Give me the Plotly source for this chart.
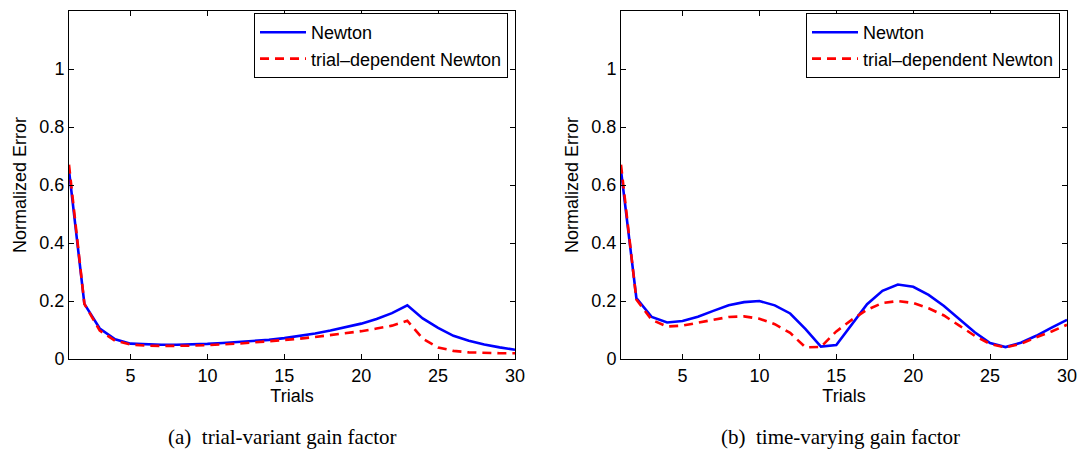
import plotly.graph_objects as go

W, H = 1080, 451

trials = list(range(1, 31))

# (a) trial-variant gain factor
newton_a = [0.65, 0.19, 0.105, 0.068, 0.053, 0.050, 0.049, 0.049, 0.050, 0.052,
            0.055, 0.058, 0.062, 0.066, 0.072, 0.079, 0.088, 0.098, 0.109, 0.122,
            0.138, 0.158, 0.185, 0.140, 0.107, 0.080, 0.063, 0.050, 0.040, 0.032]
trial_dep_a = [0.67, 0.19, 0.098, 0.063, 0.050, 0.046, 0.045, 0.045, 0.046, 0.048,
               0.050, 0.053, 0.057, 0.061, 0.065, 0.070, 0.076, 0.082, 0.089, 0.096,
               0.105, 0.115, 0.132, 0.070, 0.040, 0.028, 0.023, 0.021, 0.020, 0.020]

# (b) time-varying gain factor
newton_b = [0.65, 0.21, 0.145, 0.126, 0.131, 0.146, 0.166, 0.185, 0.196, 0.200,
            0.185, 0.157, 0.103, 0.043, 0.048, 0.120, 0.189, 0.235, 0.257, 0.249,
            0.221, 0.183, 0.137, 0.092, 0.055, 0.041, 0.056, 0.080, 0.108, 0.135]
trial_dep_b = [0.67, 0.205, 0.135, 0.112, 0.115, 0.125, 0.135, 0.145, 0.147, 0.139,
               0.120, 0.090, 0.040, 0.042, 0.095, 0.135, 0.170, 0.193, 0.200, 0.193,
               0.175, 0.150, 0.115, 0.080, 0.052, 0.040, 0.052, 0.075, 0.095, 0.118]

series_names = ["Newton", "trial\u2013dependent Newton"]
captions = ["(a)  trial-variant gain factor", "(b)  time-varying gain factor"]
x_ticks = [5, 10, 15, 20, 25, 30]
y_ticks = [0, 0.2, 0.4, 0.6, 0.8, 1]
y_tick_text = ["0", "0.2", "0.4", "0.6", "0.8", "1"]

SANS = "Liberation Sans, Arial, Helvetica, sans-serif"
SERIF = "Liberation Serif, Times New Roman, serif"
BLUE = "#0000FF"
RED = "#FF0000"

# pixel boxes of the two axes
y_top, y_bot = 11, 359
panels = [
    dict(x0=69, x1=515, data=(newton_a, trial_dep_a), legend="legend", cap_x=282),
    dict(x0=621, x1=1067, data=(newton_b, trial_dep_b), legend="legend2", cap_x=840),
]

fig = go.Figure()
layout = dict(
    template="none",
    width=W, height=H,
    margin=dict(l=0, r=0, t=0, b=0, autoexpand=False),
    paper_bgcolor="white", plot_bgcolor="white",
    font=dict(family=SANS, size=18, color="black"),
    annotations=[],
)

for i, p in enumerate(panels):
    sfx = "" if i == 0 else str(i + 1)
    xa, ya = "x" + sfx, "y" + sfx
    blue_vals, red_vals = p["data"]
    fig.add_trace(go.Scatter(
        x=trials, y=blue_vals, mode="lines", name=series_names[0],
        line=dict(color=BLUE, width=2.6), xaxis=xa, yaxis=ya, legend=p["legend"],
    ))
    fig.add_trace(go.Scatter(
        x=trials, y=red_vals, mode="lines", name=series_names[1],
        line=dict(color=RED, width=2.6, dash="9px,6px"), xaxis=xa, yaxis=ya,
        legend=p["legend"],
    ))
    axis_common = dict(
        automargin=False,
        showline=True, linecolor="black", linewidth=1, mirror="ticks",
        ticks="inside", ticklen=5, tickwidth=1, tickcolor="black",
        showgrid=False, zeroline=False,
        tickfont=dict(family=SANS, size=18, color="black"),
    )
    layout["xaxis" + sfx] = dict(
        axis_common, domain=[p["x0"] / W, p["x1"] / W], range=[1, 30],
        tickvals=x_ticks, anchor=ya,
        title=dict(text="Trials", font=dict(family=SANS, size=18), standoff=2),
    )
    layout["yaxis" + sfx] = dict(
        axis_common, domain=[1 - y_bot / H, 1 - y_top / H], range=[0, 1.2],
        tickvals=y_ticks, ticktext=y_tick_text, anchor=xa,
        title=dict(text="Normalized Error", font=dict(family=SANS, size=18), standoff=8),
    )
    layout[p["legend"]] = dict(
        x=(p["x1"] - 7) / W, y=1 - 13 / H, xanchor="right", yanchor="top",
        bgcolor="white", bordercolor="black", borderwidth=1,
        font=dict(family=SANS, size=18, color="black"),
        itemwidth=46, tracegroupgap=0,
    )
    layout["annotations"].append(dict(
        text=captions[i], x=p["cap_x"] / W, y=1 - 437 / H, xref="paper", yref="paper",
        xanchor="center", yanchor="middle", showarrow=False,
        font=dict(family=SERIF, size=21, color="black"),
    ))

fig.update_layout(**layout)
fig.write_html("out.html")
